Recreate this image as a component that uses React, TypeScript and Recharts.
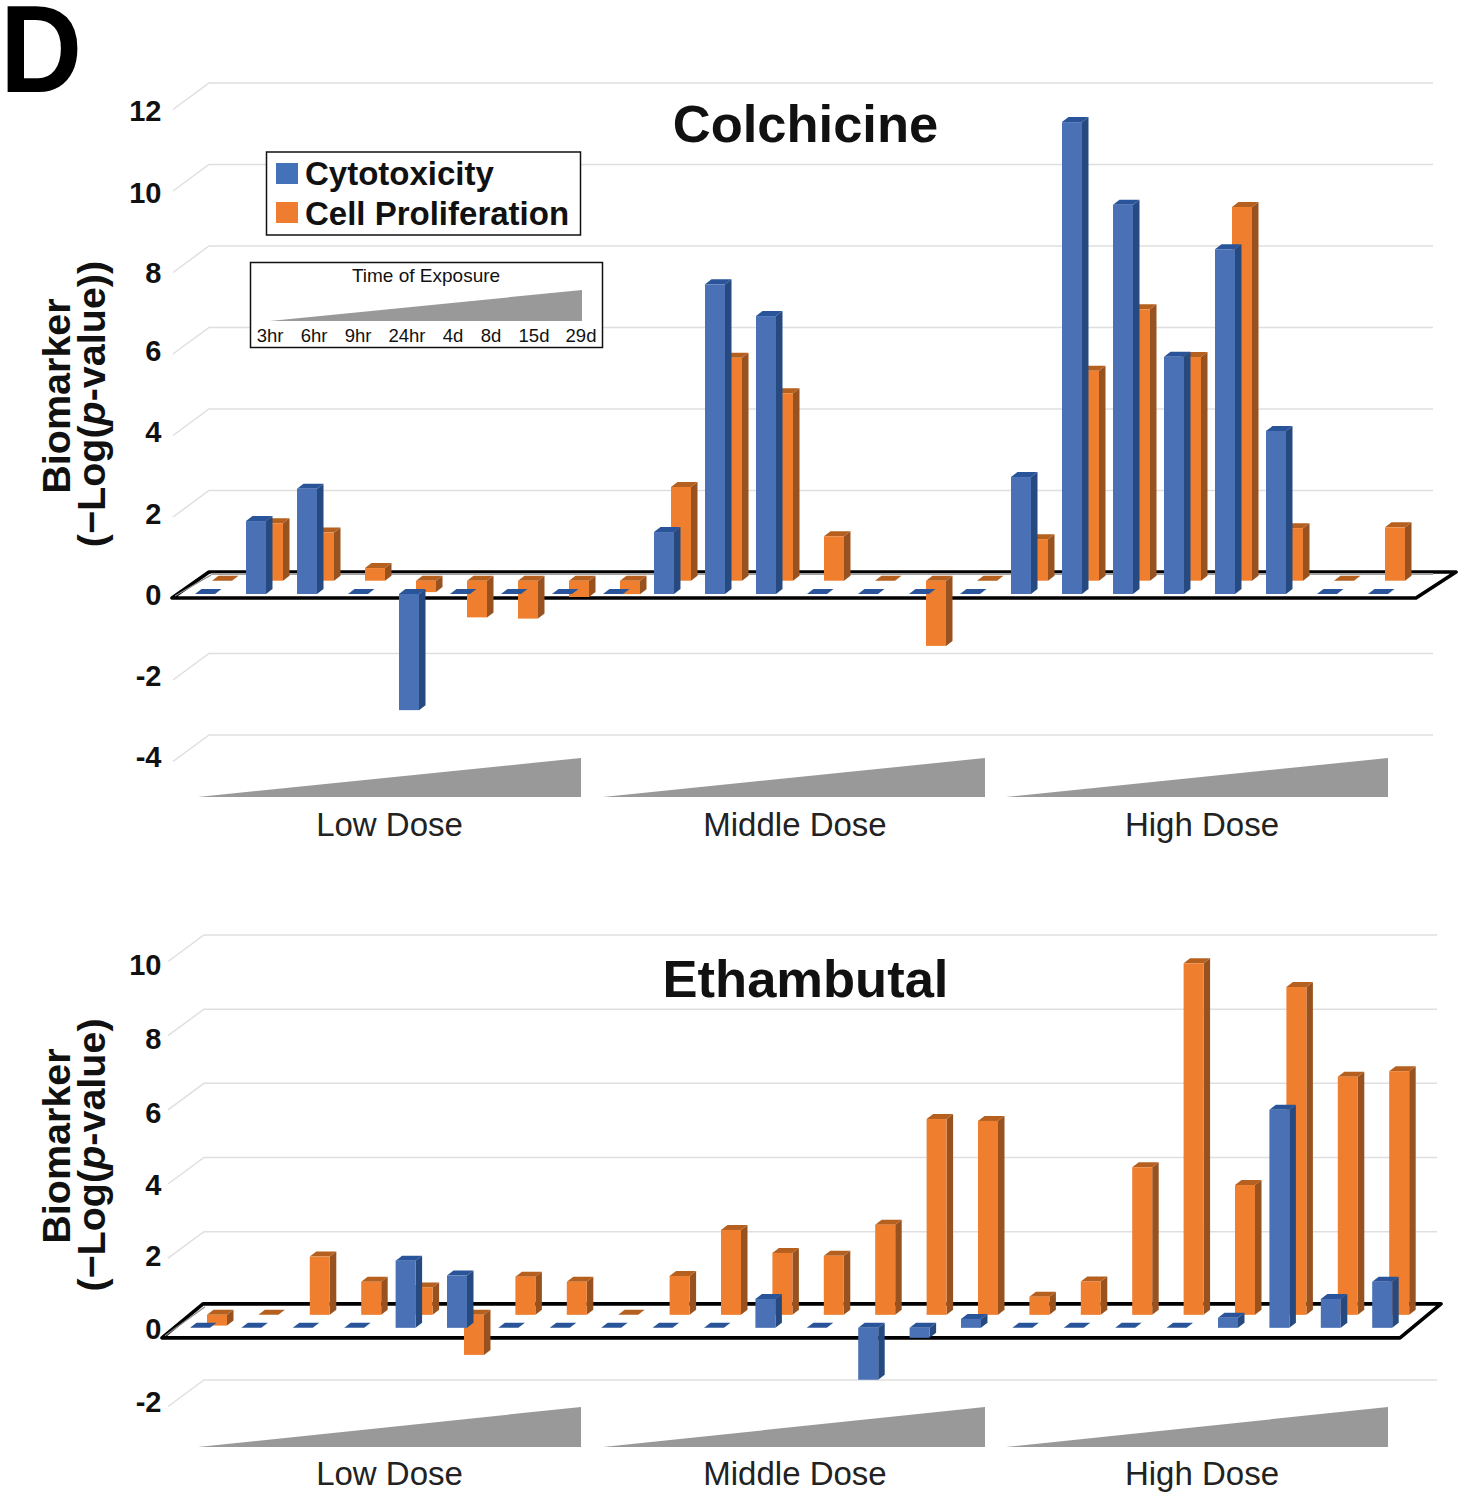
import { BarChart, Bar, XAxis, YAxis, CartesianGrid } from "recharts";

const FONT = "'Liberation Sans', Arial, sans-serif";

const CATEGORIES = [
  "L-3hr", "L-6hr", "L-9hr", "L-24hr", "L-4d", "L-8d", "L-15d", "L-29d",
  "M-3hr", "M-6hr", "M-9hr", "M-24hr", "M-4d", "M-8d", "M-15d", "M-29d",
  "H-3hr", "H-6hr", "H-9hr", "H-24hr", "H-4d", "H-8d", "H-15d", "H-29d",
];

const COLCHICINE_CYTO = [
  0, 1.79, 2.58, 0, -2.85, 0, 0, 0,
  0, 1.52, 7.6, 6.82, 0, 0, 0, 0,
  2.87, 11.58, 9.55, 5.82, 8.46, 4.0, 0, 0,
];
const COLCHICINE_PROLIF = [
  0, 1.41, 1.18, 0.31, -0.28, -0.9, -0.93, -0.4,
  -0.33, 2.3, 5.47, 4.6, 1.09, 0, -1.6, 0,
  1.02, 5.15, 6.66, 5.49, 9.17, 1.29, 0, 1.31,
];
const ETHAMBUTAL_CYTO = [
  0, 0, 0, 0, 1.81, 1.41, 0, 0,
  0, 0, 0, 0.78, 0, -1.4, -0.27, 0.24,
  0, 0, 0, 0, 0.27, 5.88, 0.78, 1.24,
];
const ETHAMBUTAL_PROLIF = [
  -0.29, 0, 1.57, 0.89, 0.74, -1.08, 1.03, 0.89,
  0, 1.05, 2.29, 1.67, 1.59, 2.43, 5.28, 5.23,
  0.49, 0.9, 3.98, 9.48, 3.5, 8.84, 6.42, 6.57,
];

const COLCHICINE_TICKS = [-4, -2, 0, 2, 4, 6, 8, 10, 12];
const ETHAMBUTAL_TICKS = [-2, 0, 2, 4, 6, 8, 10];

const DOSES = ["Low Dose", "Middle Dose", "High Dose"];
const DOSE_CENTERS = [389.5, 795, 1202];
const WEDGES = [[198, 581], [603, 985], [1006, 1388]];
const TIMES = ["3hr", "6hr", "9hr", "24hr", "4d", "8d", "15d", "29d"];
const TIME_X = [270, 314, 358, 407, 453, 491, 534, 581];

const BLUE = { front: "#4a70b5", side: "#264a80", top: "#2a5499" };
const ORANGE = { front: "#ef7f2e", side: "#98521f", top: "#b5601f" };

// the printed tick labels drift a little from the gridlines in the figure
const COLCHICINE_NUDGE: Record<number, number> = { 12: 6, 10: 6.5, 8: 5, 6: 1, 4: 1, 2: 1.5, 0: 1, "-2": 0.5, "-4": 0 };
const ETHAMBUTAL_NUDGE: Record<number, number> = { 10: 8, 8: 8, 6: 8, 4: 5, 2: 2, 0: 1, "-2": 0 };

function Bar3D(props: any) {
  const { x, y, width, height, colors, lift } = props;
  const t = Math.min(y, y + height) - lift;
  const h = Math.abs(height);
  const dx = 6.5;
  const dy = 5;
  const r = x + width;
  return (
    <g>
      <polygon points={`${r},${t} ${r + dx},${t - dy} ${r + dx},${t + h - dy} ${r},${t + h}`} fill={colors.side} />
      <polygon points={`${x},${t} ${x + dx},${t - dy} ${r + dx},${t - dy} ${r},${t}`} fill={colors.top} />
      {h > 0 && <rect x={x} y={t} width={width} height={h} fill={colors.front} />}
    </g>
  );
}

function makeGridLine(cfg: any) {
  return function GridLine(props: any) {
    const y = props.y1;
    const isZero = Math.abs(y - cfg.zeroY) < 1;
    if (isZero) {
      const f = y + cfg.floorFront;
      const b = y + cfg.floorBack;
      return (
        <g key={props.key}>
          <polygon
            points={`${cfg.fx1},${f} ${cfg.fx2},${f} ${cfg.bx2},${b} ${cfg.bx1},${b}`}
            fill="#fff"
            stroke="#000"
            strokeWidth={3.6}
            strokeLinejoin="round"
          />
          <line x1={cfg.fx1 + 3} y1={f - 2} x2={cfg.bx1 + 2} y2={b + 3} stroke="#888" strokeWidth={1.2} />
          {cfg.greyBack && (
            <line x1={cfg.bx1 + 2} x2={cfg.wallEnd} y1={b + 2} y2={b + 2} stroke="#a0a0a0" strokeWidth={2} />
          )}
        </g>
      );
    }
    return (
      <g key={props.key} stroke="#dfdfdf" strokeWidth={1.5} fill="none">
        <polyline points={`${cfg.diagX},${y + 4.5} ${cfg.wallX},${y - 22} ${cfg.wallEnd},${y - 22}`} />
      </g>
    );
  };
}

function TickLabel({ y, payload, nudge }: any) {
  return (
    <text x={161.5} y={y + nudge[payload.value]} dy="0.35em" textAnchor="end" fontFamily={FONT} fontWeight="bold" fontSize={29} fill="#111">
      {payload.value}
    </text>
  );
}

function Panel({ top, height, marginTop, marginBottom, plotLeft, plotRight, ticks, domain, cyto, prolif, grid, lift, nudge }: any) {
  const rows = CATEGORIES.map((cat, i) => ({ cat, cyto: cyto[i], prolif: prolif[i] }));
  return (
    <div style={{ position: "absolute", left: 0, top }}>
      <BarChart
        width={1463}
        height={height}
        data={rows}
        barSize={20}
        barGap={-37}
        margin={{ top: marginTop, bottom: marginBottom, left: plotLeft - 60, right: 1463 - plotRight }}
      >
        <CartesianGrid vertical={false} horizontal={makeGridLine(grid)} />
        <XAxis dataKey="cat" hide />
        <YAxis
          type="number"
          width={60}
          domain={domain}
          ticks={ticks}
          interval={0}
          axisLine={false}
          tickLine={false}
          tick={<TickLabel nudge={nudge} />}
        />
        <Bar dataKey="prolif" isAnimationActive={false} shape={<Bar3D colors={ORANGE} lift={lift} />} />
        <Bar dataKey="cyto" isAnimationActive={false} shape={<Bar3D colors={BLUE} lift={0} />} />
      </BarChart>
    </div>
  );
}

function YTitle({ cy1, cy2, second }: any) {
  return (
    <g fontFamily={FONT} fontWeight="bold" fontSize={39.5} fill="#111" textAnchor="middle">
      <text transform={`translate(70 ${cy1}) rotate(-90)`}>Biomarker</text>
      <text transform={`translate(105 ${cy2}) rotate(-90)`}>
        (−Log(<tspan fontStyle="italic">p</tspan>-value){second}
      </text>
    </g>
  );
}

function DoseRow({ wedgeBottom, wedgeTop, labelY }: any) {
  return (
    <g>
      {WEDGES.map(([a, b], i) => (
        <polygon key={i} points={`${a},${wedgeBottom} ${b},${wedgeBottom} ${b},${wedgeTop}`} fill="#999" />
      ))}
      {DOSES.map((d, i) => (
        <text key={d} x={DOSE_CENTERS[i]} y={labelY} textAnchor="middle" fontFamily={FONT} fontSize={33} fill="#222">
          {d}
        </text>
      ))}
    </g>
  );
}

function Overlay() {
  return (
    <svg width={1463} height={1500} style={{ position: "absolute", left: 0, top: 0, pointerEvents: "none" }}>
      <text x={805.5} y={142} textAnchor="middle" fontFamily={FONT} fontWeight="bold" fontSize={52.5} fill="#111">Colchicine</text>
      <text x={805.5} y={997} textAnchor="middle" fontFamily={FONT} fontWeight="bold" fontSize={52.5} fill="#111">Ethambutal</text>
      <YTitle cy1={396} cy2={404} second=")" />
      <YTitle cy1={1146} cy2={1155} second="" />

      <rect x={266.5} y={152} width={314} height={83} fill="#fff" stroke="#111" strokeWidth={1.5} />
      <rect x={276} y={163} width={22} height={21} fill="#4472b8" />
      <rect x={276} y={202} width={22} height={21} fill="#ee7d31" />
      <g fontFamily={FONT} fontWeight="bold" fontSize={33} fill="#111">
        <text x={305} y={185}>Cytotoxicity</text>
        <text x={305} y={225}>Cell Proliferation</text>
      </g>

      <rect x={250.5} y={262.5} width={352} height={85} fill="#fff" stroke="#111" strokeWidth={1.5} />
      <text x={426} y={282} textAnchor="middle" fontFamily={FONT} fontSize={19} fill="#111">Time of Exposure</text>
      <polygon points="270,321 582,321 582,290" fill="#999" />
      {TIMES.map((t, i) => (
        <text key={t} x={TIME_X[i]} y={342} textAnchor="middle" fontFamily={FONT} fontSize={18.5} fill="#111">{t}</text>
      ))}

      <DoseRow wedgeBottom={797} wedgeTop={758} labelY={836} />
      <DoseRow wedgeBottom={1447} wedgeTop={1407} labelY={1485} />
    </svg>
  );
}

export default function App() {
  return (
    <div style={{ position: "absolute", left: 0, top: 0, width: 1463, height: 1500, background: "#fff" }}>
      <Panel
        top={0}
        height={800}
        marginTop={105}
        marginBottom={43}
        plotLeft={188}
        plotRight={1412}
        ticks={COLCHICINE_TICKS}
        domain={[-4, 12]}
        cyto={COLCHICINE_CYTO}
        prolif={COLCHICINE_PROLIF}
        lift={13.3}
        nudge={COLCHICINE_NUDGE}
        grid={{
          zeroY: 594, floorFront: 4, floorBack: -22,
          fx1: 172, fx2: 1416, bx1: 209, bx2: 1456,
          diagX: 173, wallX: 209, wallEnd: 1433, greyBack: true,
        }}
      />
      <Panel
        top={900}
        height={520}
        marginTop={57}
        marginBottom={18}
        plotLeft={183}
        plotRight={1416.6}
        ticks={ETHAMBUTAL_TICKS}
        domain={[-2, 10]}
        cyto={ETHAMBUTAL_CYTO}
        prolif={ETHAMBUTAL_PROLIF}
        lift={13}
        nudge={ETHAMBUTAL_NUDGE}
        grid={{
          zeroY: 428, floorFront: 10, floorBack: -24,
          fx1: 162, fx2: 1400, bx1: 203, bx2: 1441,
          diagX: 168, wallX: 204, wallEnd: 1437, greyBack: false,
        }}
      />
      <Overlay />
      <div
        style={{
          position: "absolute",
          left: 0,
          top: 6,
          height: 86,
          lineHeight: "86px",
          fontFamily: FONT,
          fontWeight: "bold",
          fontSize: 125,
          color: "#000",
          transform: "scaleX(0.91)",
          transformOrigin: "left top",
        }}
      >
        D
      </div>
    </div>
  );
}
